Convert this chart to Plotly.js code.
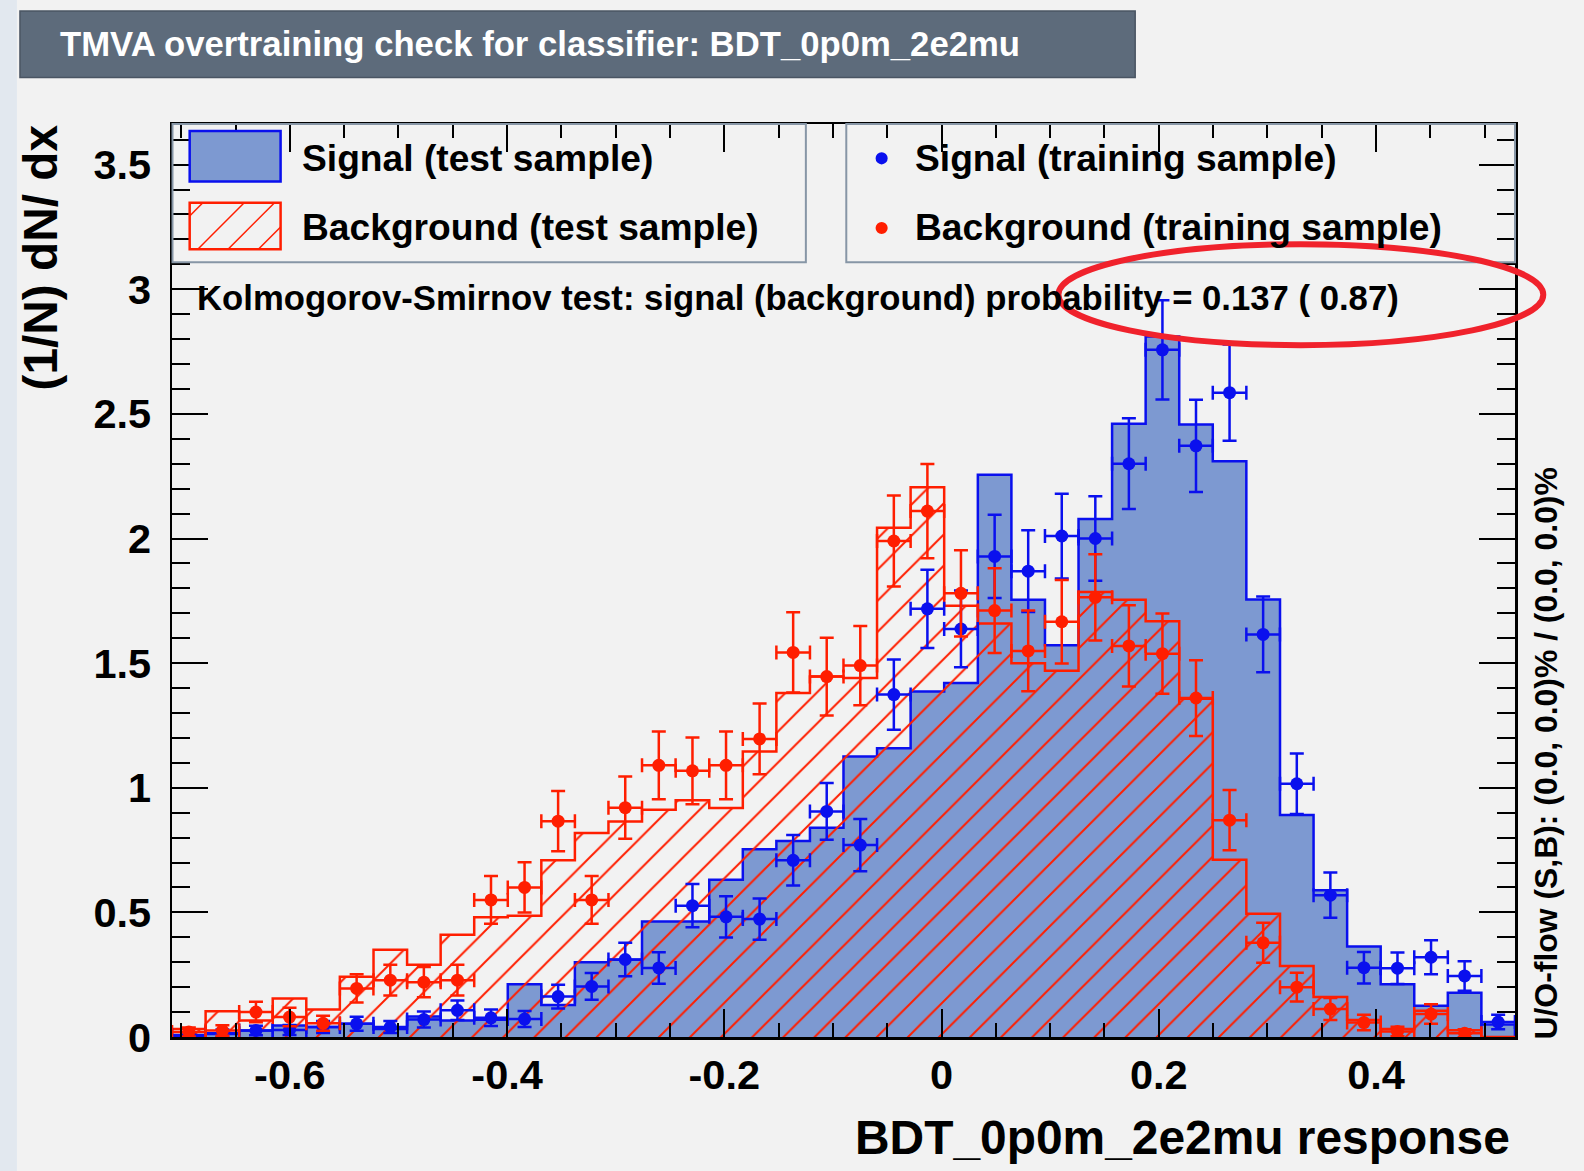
<!DOCTYPE html>
<html><head><meta charset="utf-8">
<script src="https://cdn.plot.ly/plotly-3.0.1.min.js"></script>
<style>html,body{margin:0;padding:0;background:#f2f2f2;} #chart{width:1584px;height:1171px;}</style>
</head><body><div id="chart"></div>
<script>
// ---- data ----
const binCenters = [-0.6930,-0.6621,-0.6312,-0.6003,-0.5694,-0.5385,-0.5075,-0.4766,-0.4457,-0.4148,
  -0.3839,-0.3530,-0.3221,-0.2912,-0.2603,-0.2293,-0.1984,-0.1675,-0.1366,-0.1057,
  -0.0748,-0.0439,-0.0130,0.0179,0.0489,0.0798,0.1107,0.1416,0.1725,0.2034,
  0.2343,0.2652,0.2961,0.3271,0.3580,0.3889,0.4198,0.4507,0.4816,0.5125];
const binWidth = 0.0309125;
const signalTest = [0.005,0.012,0.026,0.046,0.040,0.053,0.032,0.082,0.066,0.069,
  0.212,0.128,0.300,0.310,0.463,0.463,0.631,0.753,0.786,0.840,
  1.125,1.158,1.386,1.420,2.256,1.754,1.572,2.078,2.460,2.810,
  2.457,2.310,1.755,0.891,0.589,0.363,0.212,0.125,0.178,0.050];
const backgroundTest = [0.032,0.103,0.066,0.154,0.110,0.242,0.350,0.290,0.410,0.480,
  0.486,0.709,0.818,0.865,0.912,0.950,0.919,1.145,1.380,1.446,
  1.440,2.043,2.206,1.730,1.659,1.500,1.469,1.785,1.754,1.668,
  1.357,0.711,0.494,0.285,0.160,0.068,0.032,0.105,0.027,0.000];
const signalTrain = [0.008,0.015,0.026,0.028,0.040,0.053,0.040,0.070,0.107,0.077,
  0.072,0.162,0.203,0.311,0.277,0.527,0.482,0.473,0.709,0.905,
  0.770,1.374,1.718,1.637,1.928,1.869,2.010,2.000,2.300,2.757,
  2.372,2.585,1.615,1.016,0.569,0.278,0.276,0.320,0.245,0.060];
const signalTrainErr = [0.011,0.015,0.019,0.020,0.024,0.028,0.024,0.032,0.039,0.033,
  0.032,0.048,0.054,0.067,0.063,0.087,0.083,0.083,0.101,0.114,
  0.105,0.141,0.157,0.154,0.167,0.164,0.170,0.170,0.182,0.199,
  0.185,0.193,0.152,0.121,0.091,0.063,0.063,0.068,0.059,0.029];
const backgroundTrain = [0.020,0.026,0.100,0.080,0.055,0.195,0.228,0.220,0.228,0.550,
  0.600,0.866,0.550,0.920,1.090,1.068,1.090,1.196,1.543,1.446,
  1.490,1.990,2.110,1.780,1.711,1.549,1.666,1.764,1.569,1.538,
  1.360,0.870,0.378,0.200,0.112,0.058,0.022,0.092,0.015,null];
const backgroundTrainErr = [0.018,0.021,0.041,0.037,0.030,0.057,0.062,0.061,0.062,0.096,
  0.101,0.121,0.096,0.125,0.136,0.134,0.136,0.142,0.161,0.156,
  0.159,0.183,0.189,0.173,0.170,0.162,0.168,0.173,0.163,0.161,
  0.152,0.121,0.080,0.058,0.044,0.031,0.019,0.039,0.016,0];
const xTickVals = [-0.6,-0.4,-0.2,0,0.2,0.4];
const xTickText = ['-0.6','-0.4','-0.2','0','0.2','0.4'];
const yTickVals = [0,0.5,1,1.5,2,2.5,3,3.5];
const yTickText = ['0','0.5','1','1.5','2','2.5','3','3.5'];
const xRange = [-0.7085, 0.528];
const yRange = [0, 3.663];

// ---- styling / geometry (layout positions given in reference-view units) ----
const S = 1584/1568;
const W=1584, H=1171, Ld=170.5, Rd=1500, Td=123, Bd=1027;
const px = x => (x-Ld)/(Rd-Ld);
const py = y => (Bd-y)/(Bd-Td);
const FONT = 'Liberation Sans, Arial, Helvetica, sans-serif';
const BLUE_LINE = '#0a10ee', BLUE_FILL = '#7d99d1', RED = '#ff1e00';

function stepXY(vals){
  const xs=[], ys=[];
  const n = binCenters.length;
  xs.push(binCenters[0]-binWidth/2); ys.push(0);
  for(let i=0;i<n;i++){ xs.push(binCenters[i]-binWidth/2); ys.push(vals[i]); }
  xs.push(binCenters[n-1]+binWidth/2); ys.push(vals[n-1]);
  xs.push(binCenters[n-1]+binWidth/2); ys.push(0);
  return {xs, ys};
}
const sS = stepXY(signalTest), sB = stepXY(backgroundTest);

const traces = [
  {type:'scatter', mode:'lines', x:sS.xs, y:sS.ys, line:{shape:'hv', color:BLUE_LINE, width:2.5},
   fill:'tozeroy', fillcolor:BLUE_FILL, hoverinfo:'skip', showlegend:false},
  {type:'scatter', mode:'lines', x:sB.xs, y:sB.ys, line:{shape:'hv', color:RED, width:2.5},
   fill:'tozeroy', fillcolor:'rgba(0,0,0,0)',
   fillpattern:{shape:'/', fgcolor:RED, bgcolor:'rgba(0,0,0,0)', size:22, solidity:0.09},
   hoverinfo:'skip', showlegend:false},
  {type:'scatter', mode:'markers', x:binCenters, y:signalTrain,
   marker:{color:BLUE_LINE, size:13, symbol:'circle'},
   error_y:{type:'data', array:signalTrainErr, color:BLUE_LINE, thickness:2.5, width:7},
   error_x:{type:'constant', value:binWidth/2, color:BLUE_LINE, thickness:2.5, width:7},
   showlegend:false},
  {type:'scatter', mode:'markers', x:binCenters, y:backgroundTrain,
   marker:{color:RED, size:13, symbol:'circle'},
   error_y:{type:'data', array:backgroundTrainErr, color:RED, thickness:2.5, width:7},
   error_x:{type:'constant', value:binWidth/2, color:RED, thickness:2.5, width:7},
   showlegend:false}
];

const shapes = [
  {type:'rect', xref:'paper', yref:'paper', x0:px(0), x1:px(17), y0:py(1200), y1:py(0), fillcolor:'#e2e8ef', line:{width:0}, layer:'below'},
  {type:'rect', xref:'paper', yref:'paper', x0:px(20), x1:px(1124), y0:py(77), y1:py(11), fillcolor:'#5d6b7b', line:{color:'#4a5563', width:1.5}},
  // legend boxes
  {type:'rect', xref:'paper', yref:'paper', x0:px(171), x1:px(798), y0:py(260), y1:py(123), fillcolor:'rgba(0,0,0,0)', line:{color:'#8796a6', width:2}},
  {type:'rect', xref:'paper', yref:'paper', x0:px(838), x1:px(1500), y0:py(260), y1:py(123), fillcolor:'rgba(0,0,0,0)', line:{color:'#8796a6', width:2}},
  // legend swatches
  {type:'rect', xref:'paper', yref:'paper', x0:px(188), x1:px(278), y0:py(180), y1:py(130), fillcolor:BLUE_FILL, line:{color:BLUE_LINE, width:2.5}},
  {type:'rect', xref:'paper', yref:'paper', x0:px(188), x1:px(278), y0:py(247), y1:py(201), fillcolor:'rgba(0,0,0,0)', line:{color:RED, width:2.5}},
  {type:'line', xref:'paper', yref:'paper', x0:px(188), y0:py(214), x1:px(201), y1:py(201), line:{color:RED, width:1.5}},
  {type:'line', xref:'paper', yref:'paper', x0:px(196), y0:py(247), x1:px(242), y1:py(201), line:{color:RED, width:1.5}},
  {type:'line', xref:'paper', yref:'paper', x0:px(226), y0:py(247), x1:px(272), y1:py(201), line:{color:RED, width:1.5}},
  {type:'line', xref:'paper', yref:'paper', x0:px(256), y0:py(247), x1:px(278), y1:py(225), line:{color:RED, width:1.5}},
  {type:'circle', xref:'paper', yref:'paper', x0:px(867), x1:px(879), y0:py(163), y1:py(151), fillcolor:BLUE_LINE, line:{width:0}},
  {type:'circle', xref:'paper', yref:'paper', x0:px(867), x1:px(879), y0:py(232), y1:py(220), fillcolor:RED, line:{width:0}},
  // highlight ellipse
  {type:'circle', xref:'paper', yref:'paper', x0:px(1048), x1:px(1528), y0:py(342), y1:py(242), fillcolor:'rgba(0,0,0,0)', line:{color:'#f0222c', width:6}}
];

const ann = (text, x, y, size, opts) => Object.assign({text, xref:'paper', yref:'paper', x:px(x), y:py(y), showarrow:false,
  font:{family:FONT, size, color:'#000', weight:'bold'}, xanchor:'left', yanchor:'middle'}, opts||{});

const annotations = [
  ann('TMVA overtraining check for classifier: BDT_0p0m_2e2mu', 58, 44, 34.7, {font:{family:FONT, size:34.7, color:'#ffffff', weight:'bold'}}),
  ann('Signal (test sample)', 297, 157, 37.2),
  ann('Background (test sample)', 297, 225, 37.2),
  ann('Signal (training sample)', 904, 157, 37.2),
  ann('Background (training sample)', 904, 225, 37.2),
  ann('Kolmogorov-Smirnov test: signal (background) probability = 0.137 ( 0.87)', 193, 295, 34.7),
  ann('BDT_0p0m_2e2mu response', 1497, 1127, 47.9, {xanchor:'right'}),
  ann('(1/N) dN/ dx', 40, 255, 47.8, {xanchor:'center', textangle:-90}),
  ann('U/O-flow (S,B): (0.0, 0.0)% / (0.0, 0.0)%', 1531, 746, 31.9, {xanchor:'center', textangle:-90})
];

const layout = {
  width:W, height:H, autosize:false,
  margin:{l:Ld*S, r:W-Rd*S, t:Td*S, b:H-Bd*S, pad:0},
  paper_bgcolor:'#f2f2f2', plot_bgcolor:'#f2f2f2',
  xaxis:{range:xRange, tickmode:'array', tickvals:xTickVals, ticktext:xTickText,
    ticks:'inside', ticklen:28, tickwidth:2, tickcolor:'#000',
    minor:{dtick:0.05, tick0:0, ticks:'inside', ticklen:14, tickwidth:2, tickcolor:'#000', showgrid:false},
    showline:true, linecolor:'#000', linewidth:2.5, mirror:'ticks', showgrid:false, zeroline:false,
    tickfont:{family:FONT, size:41.5, color:'#000', weight:'bold'}, ticklabelstandoff:0},
  yaxis:{range:yRange, tickmode:'array', tickvals:yTickVals, ticktext:yTickText,
    ticks:'inside', ticklen:36, tickwidth:2, tickcolor:'#000',
    minor:{dtick:0.1, tick0:0, ticks:'inside', ticklen:18, tickwidth:2, tickcolor:'#000', showgrid:false},
    showline:true, linecolor:'#000', linewidth:2.5, mirror:'ticks', showgrid:false, zeroline:false,
    tickfont:{family:FONT, size:41.5, color:'#000', weight:'bold'}, ticklabelstandoff:10},
  shapes, annotations, showlegend:false
};

Plotly.newPlot('chart', traces, layout, {displayModeBar:false, staticPlot:true});
</script></body></html>
